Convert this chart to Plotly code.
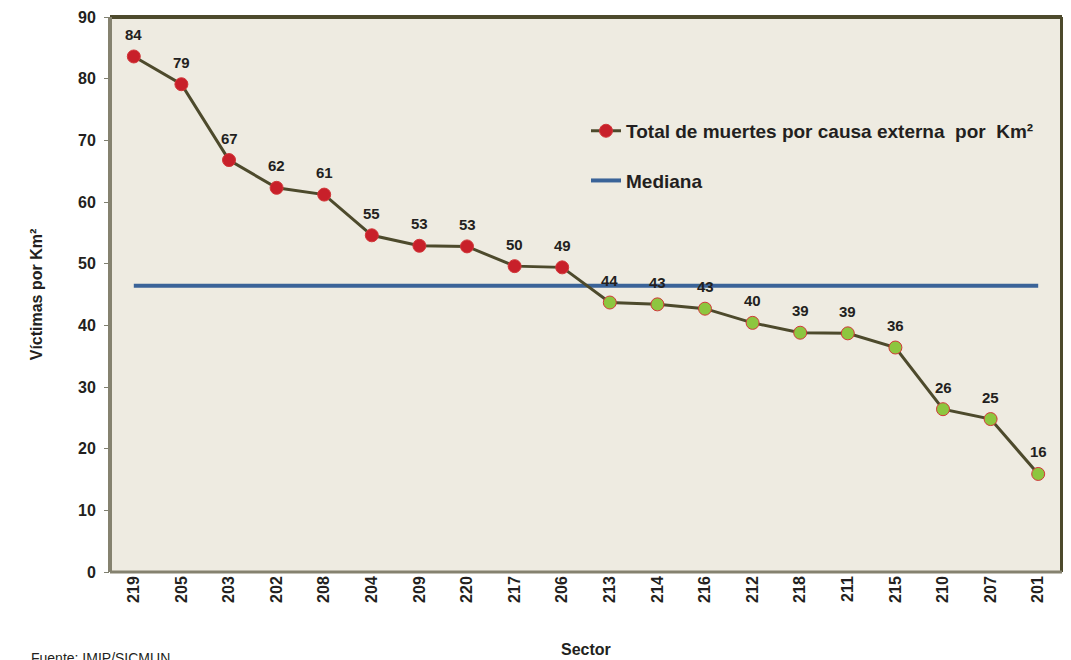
import plotly.graph_objects as go

sectors = ["219", "205", "203", "202", "208", "204", "209", "220", "217", "206",
           "213", "214", "216", "212", "218", "211", "215", "210", "207", "201"]
victimas_km2 = [83.6, 79.1, 66.8, 62.3, 61.2, 54.6, 52.9, 52.8, 49.6, 49.4,
                43.7, 43.4, 42.7, 40.4, 38.8, 38.7, 36.4, 26.4, 24.8, 15.9]
mediana = 46.4
y_ticks = [0, 10, 20, 30, 40, 50, 60, 70, 80, 90]

FONT = "Arial, Liberation Sans, sans-serif"
RED = "#C8202A"
GREEN = "#8DC63F"
OLIVE = "#4D4A2C"
BLUE = "#3A6398"
TXT = "#231F20"

marker_colors = [RED if v > mediana else GREEN for v in victimas_km2]

fig = go.Figure()

fig.add_trace(go.Scatter(
    x=sectors, y=[mediana] * len(sectors),
    mode="lines", name="Mediana",
    line=dict(color=BLUE, width=4),
    legendgroup="b", legendrank=2,
))

fig.add_trace(go.Scatter(
    x=sectors, y=victimas_km2,
    mode="lines+markers",
    name="Total de muertes por causa externa  por  Km²",
    line=dict(color=OLIVE, width=3),
    marker=dict(size=13, color=marker_colors, line=dict(color="#D2383A", width=1)),
    legendgroup="a", legendrank=1,
))

# data labels (category index along the x axis)
for i, v in enumerate(victimas_km2):
    fig.add_annotation(
        x=i, y=v, xref="x", yref="y", text=f"{v:.0f}", showarrow=False,
        yshift=22, xanchor="center", yanchor="middle",
        font=dict(family=FONT, size=15, color=TXT, weight="bold"),
    )

fig.update_layout(
    width=1055, height=652,
    paper_bgcolor="white", plot_bgcolor="#EEEBE1",
    margin=dict(l=102, r=1, t=9, b=88),
    font=dict(family=FONT, color=TXT),
    showlegend=True,
    legend=dict(
        x=0.500, y=0.829, xanchor="left", yanchor="top",
        bgcolor="rgba(0,0,0,0)",
        font=dict(family=FONT, size=19, color=TXT, weight="bold"),
        tracegroupgap=22, traceorder="grouped", itemwidth=30,
    ),
    xaxis=dict(
        type="category", range=[-0.5, len(sectors) - 0.5],
        tickangle=-90, showgrid=False, ticks="", automargin=False,
        tickfont=dict(family=FONT, size=16, color=TXT, weight="bold"),
        showline=False, zeroline=False,
    ),
    yaxis=dict(
        range=[0, 90], tickvals=y_ticks, showgrid=False, zeroline=False,
        ticks="outside", ticklen=5, tickcolor="#7F7F70", automargin=False,
        ticklabelstandoff=5,
        tickfont=dict(family=FONT, size=16, color=TXT, weight="bold"),
        title=dict(text="Víctimas por Km²", standoff=31,
                   font=dict(family=FONT, size=16, color=TXT, weight="bold")),
        showline=False,
    ),
)

# x axis title
fig.add_annotation(
    text="Sector", xref="paper", yref="paper",
    x=0.5, y=-0.1405, xanchor="center", yanchor="middle", showarrow=False,
    font=dict(family=FONT, size=16, color=TXT, weight="bold"),
)

# frame: top/right dark olive, left/bottom grey
fig.add_shape(type="line", xref="paper", yref="paper", x0=0, x1=1, y0=1, y1=1,
              line=dict(color=OLIVE, width=4))
fig.add_shape(type="line", xref="paper", yref="paper", x0=1, x1=1, y0=0, y1=1,
              line=dict(color=OLIVE, width=4))
fig.add_shape(type="line", xref="paper", yref="paper", x0=0, x1=0, y0=0, y1=1,
              line=dict(color="#85826F", width=4))
fig.add_shape(type="line", xref="paper", yref="paper", x0=0, x1=1, y0=0, y1=0,
              line=dict(color="#85826F", width=3))

fig.add_annotation(
    text="Fuente: IMIP/SICMUN", xref="paper", yref="paper",
    x=-0.085, y=-0.137, xanchor="left", yanchor="top", showarrow=False,
    font=dict(family=FONT, size=14, color=TXT),
)

fig.write_html("out.html")
